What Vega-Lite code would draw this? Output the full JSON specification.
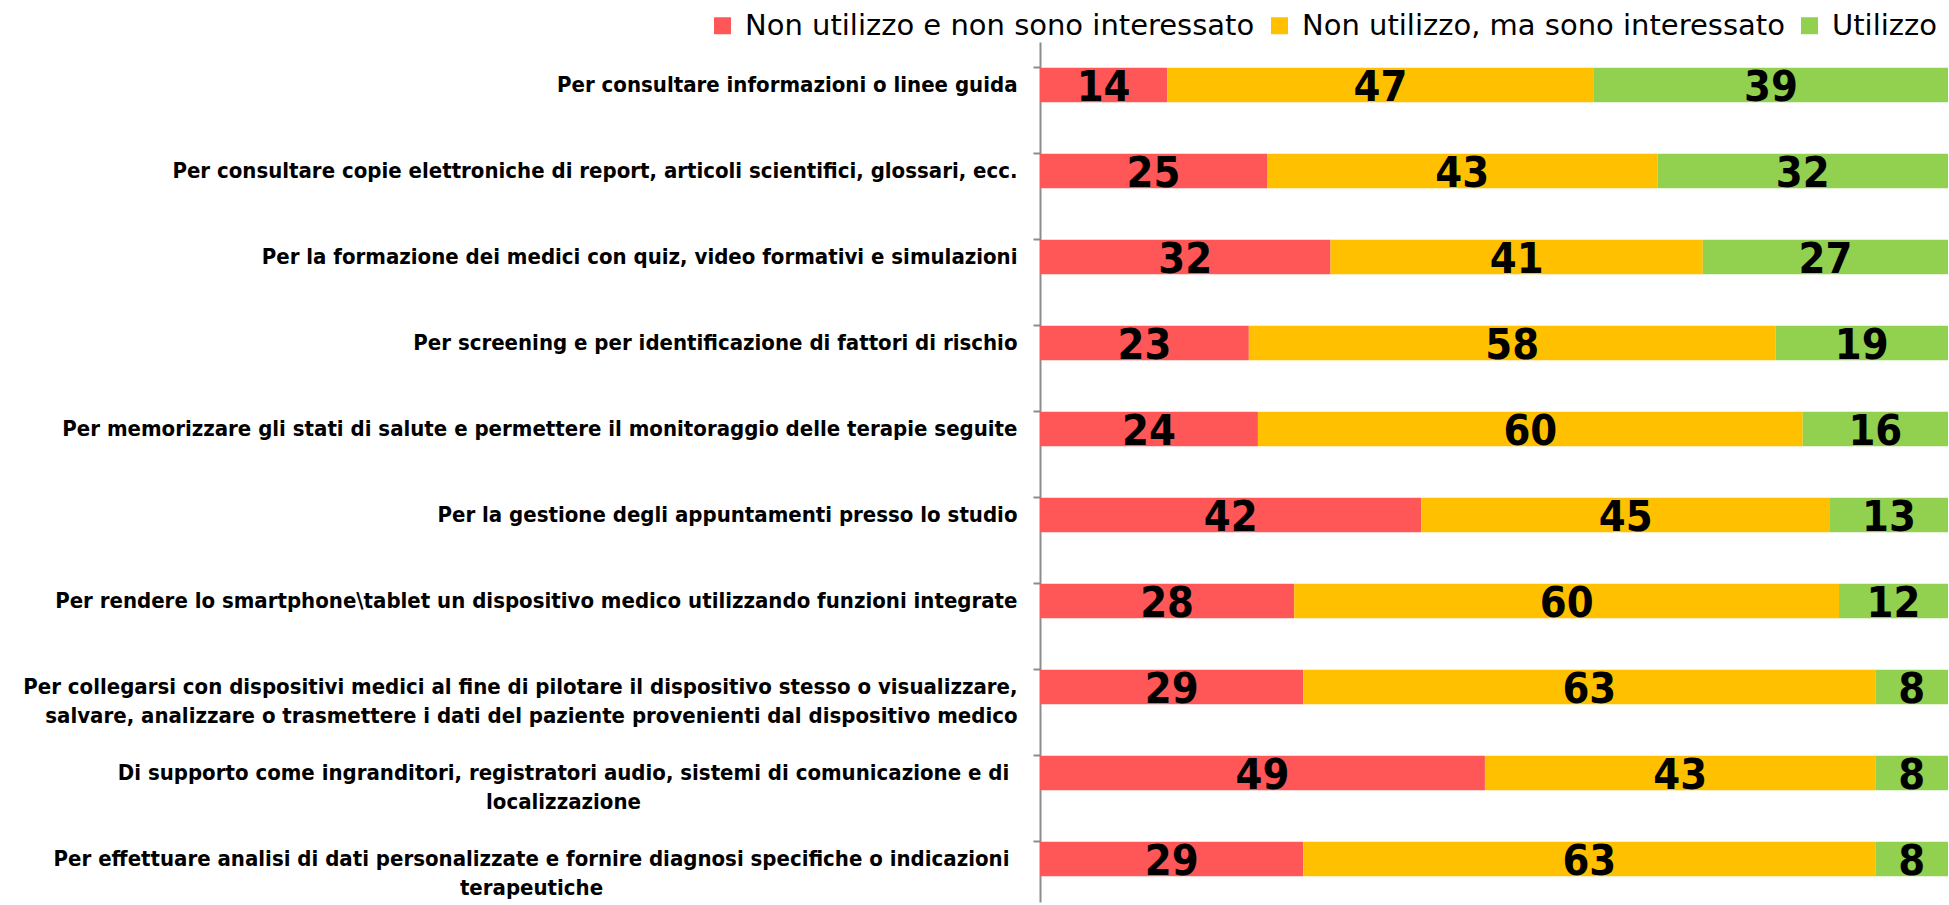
{
  "$schema": "https://vega.github.io/schema/vega-lite/v6.json",
  "width": 908,
  "height": 860,
  "autosize": {"type": "none"},
  "padding": {"left": 1040, "top": 42, "right": 1, "bottom": 3},
  "background": "white",
  "config": {"view": {"stroke": null}},
  "data": {
    "values": [
      {"item": "Per consultare informazioni o linee guida", "cat": "Non utilizzo e non sono interessato", "v": 14},
      {"item": "Per consultare informazioni o linee guida", "cat": "Non utilizzo, ma sono interessato", "v": 47},
      {"item": "Per consultare informazioni o linee guida", "cat": "Utilizzo", "v": 39},
      {"item": "Per consultare copie elettroniche di report, articoli scientifici, glossari, ecc.", "cat": "Non utilizzo e non sono interessato", "v": 25},
      {"item": "Per consultare copie elettroniche di report, articoli scientifici, glossari, ecc.", "cat": "Non utilizzo, ma sono interessato", "v": 43},
      {"item": "Per consultare copie elettroniche di report, articoli scientifici, glossari, ecc.", "cat": "Utilizzo", "v": 32},
      {"item": "Per la formazione dei medici con quiz, video formativi e simulazioni", "cat": "Non utilizzo e non sono interessato", "v": 32},
      {"item": "Per la formazione dei medici con quiz, video formativi e simulazioni", "cat": "Non utilizzo, ma sono interessato", "v": 41},
      {"item": "Per la formazione dei medici con quiz, video formativi e simulazioni", "cat": "Utilizzo", "v": 27},
      {"item": "Per screening e per identificazione di fattori di rischio", "cat": "Non utilizzo e non sono interessato", "v": 23},
      {"item": "Per screening e per identificazione di fattori di rischio", "cat": "Non utilizzo, ma sono interessato", "v": 58},
      {"item": "Per screening e per identificazione di fattori di rischio", "cat": "Utilizzo", "v": 19},
      {"item": "Per memorizzare gli stati di salute e permettere il monitoraggio delle terapie seguite", "cat": "Non utilizzo e non sono interessato", "v": 24},
      {"item": "Per memorizzare gli stati di salute e permettere il monitoraggio delle terapie seguite", "cat": "Non utilizzo, ma sono interessato", "v": 60},
      {"item": "Per memorizzare gli stati di salute e permettere il monitoraggio delle terapie seguite", "cat": "Utilizzo", "v": 16},
      {"item": "Per la gestione degli appuntamenti presso lo studio", "cat": "Non utilizzo e non sono interessato", "v": 42},
      {"item": "Per la gestione degli appuntamenti presso lo studio", "cat": "Non utilizzo, ma sono interessato", "v": 45},
      {"item": "Per la gestione degli appuntamenti presso lo studio", "cat": "Utilizzo", "v": 13},
      {"item": "Per rendere lo smartphone\\tablet un dispositivo medico utilizzando funzioni integrate", "cat": "Non utilizzo e non sono interessato", "v": 28},
      {"item": "Per rendere lo smartphone\\tablet un dispositivo medico utilizzando funzioni integrate", "cat": "Non utilizzo, ma sono interessato", "v": 60},
      {"item": "Per rendere lo smartphone\\tablet un dispositivo medico utilizzando funzioni integrate", "cat": "Utilizzo", "v": 12},
      {"item": "Per collegarsi con dispositivi medici al fine di pilotare il dispositivo stesso o visualizzare,|salvare, analizzare o trasmettere i dati del paziente provenienti dal dispositivo medico", "cat": "Non utilizzo e non sono interessato", "v": 29},
      {"item": "Per collegarsi con dispositivi medici al fine di pilotare il dispositivo stesso o visualizzare,|salvare, analizzare o trasmettere i dati del paziente provenienti dal dispositivo medico", "cat": "Non utilizzo, ma sono interessato", "v": 63},
      {"item": "Per collegarsi con dispositivi medici al fine di pilotare il dispositivo stesso o visualizzare,|salvare, analizzare o trasmettere i dati del paziente provenienti dal dispositivo medico", "cat": "Utilizzo", "v": 8},
      {"item": "Di supporto come ingranditori, registratori audio, sistemi di comunicazione e di|localizzazione", "cat": "Non utilizzo e non sono interessato", "v": 49},
      {"item": "Di supporto come ingranditori, registratori audio, sistemi di comunicazione e di|localizzazione", "cat": "Non utilizzo, ma sono interessato", "v": 43},
      {"item": "Di supporto come ingranditori, registratori audio, sistemi di comunicazione e di|localizzazione", "cat": "Utilizzo", "v": 8},
      {"item": "Per effettuare analisi di dati personalizzate e fornire diagnosi specifiche o indicazioni|terapeutiche", "cat": "Non utilizzo e non sono interessato", "v": 29},
      {"item": "Per effettuare analisi di dati personalizzate e fornire diagnosi specifiche o indicazioni|terapeutiche", "cat": "Non utilizzo, ma sono interessato", "v": 63},
      {"item": "Per effettuare analisi di dati personalizzate e fornire diagnosi specifiche o indicazioni|terapeutiche", "cat": "Utilizzo", "v": 8}
    ]
  },
  "encoding": {
    "y": {
      "field": "item",
      "type": "nominal",
      "sort": null,
      "scale": {"paddingInner": 0.6, "paddingOuter": 0.3},
      "axis": {
        "title": null,
        "bandPosition": 0,
        "domainColor": "#8c8c8c",
        "domainWidth": 2,
        "tickColor": "#8c8c8c",
        "tickWidth": 2,
        "tickSize": 7,
        "labelFont": "DejaVu Sans Condensed",
        "labelFontWeight": "bold",
        "labelFontSize": 22,
        "labelColor": "black",
        "labelLimit": 1100,
        "labelLineHeight": 29,
        "labelExpr": "split(datum.label, '|')",
        "labelAlign": {
          "condition": {"test": "indexof(datum.value, 'Di supporto') == 0 || indexof(datum.value, 'Per effettuare') == 0", "value": "center"},
          "value": "right"
        },
        "labelPadding": {
          "condition": [
            {"test": "indexof(datum.value, 'Di supporto') == 0", "value": 470},
            {"test": "indexof(datum.value, 'Per effettuare') == 0", "value": 502}
          ],
          "value": 16
        }
      }
    }
  },
  "layer": [
    {
      "mark": {"type": "bar"},
      "encoding": {
        "x": {"field": "v", "type": "quantitative", "stack": "zero", "scale": {"domain": [0, 100]}, "axis": null},
        "order": {"field": "cat"},
        "color": {
          "field": "cat",
          "type": "nominal",
          "scale": {
            "domain": ["Non utilizzo e non sono interessato", "Non utilizzo, ma sono interessato", "Utilizzo"],
            "range": ["#FF5757", "#FFC000", "#92D050"]
          },
          "legend": {
            "title": null,
            "orient": "none",
            "direction": "horizontal",
            "legendX": -332,
            "legendY": -31,
            "labelFont": "DejaVu Sans",
            "labelFontSize": 29,
            "labelColor": "black",
            "labelLimit": 0,
            "labelOffset": 8,
            "columnPadding": 10,
            "symbolType": "square",
            "symbolSize": 289,
            "symbolStrokeWidth": 0,
            "symbolOpacity": 1
          }
        }
      }
    },
    {
      "mark": {"type": "text", "font": "DejaVu Sans Condensed", "fontWeight": "bold", "fontSize": 43, "baseline": "middle", "align": "center", "color": "black", "dy": 3},
      "encoding": {
        "x": {"field": "v", "type": "quantitative", "stack": "zero", "bandPosition": 0.5},
        "detail": {"field": "cat"},
        "order": {"field": "cat"},
        "text": {"field": "v", "type": "quantitative"}
      }
    }
  ]
}
